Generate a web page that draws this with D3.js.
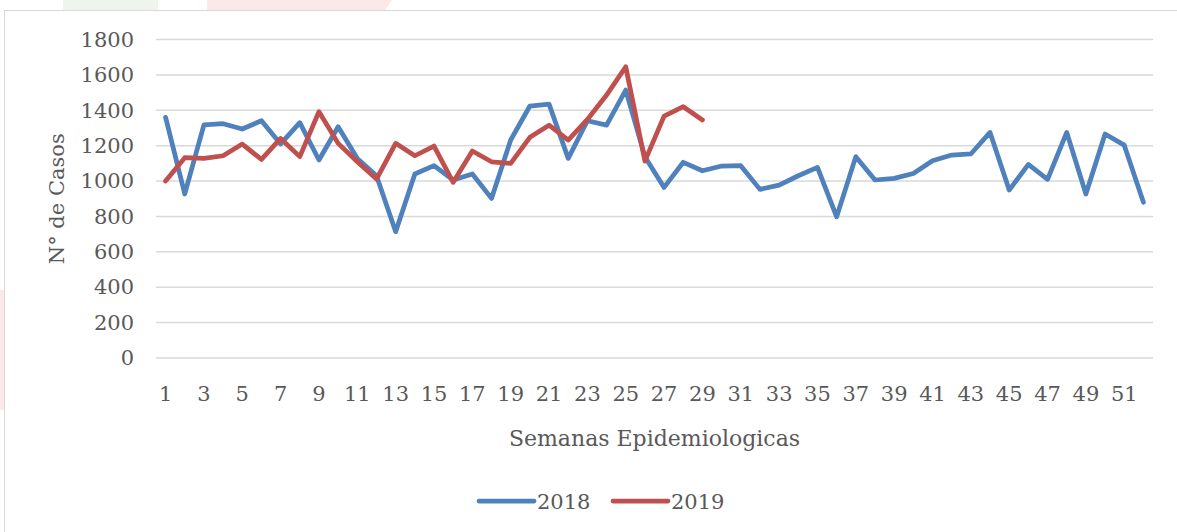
<!DOCTYPE html>
<html>
<head>
<meta charset="utf-8">
<script src="https://cdn.jsdelivr.net/npm/d3@7"></script>
<style>
  html, body { margin: 0; padding: 0; background: #fff; }
  #chart { width: 1177px; height: 532px; }
</style>
</head>
<body>
<div id="chart"></div>
<script>
// Weeks 1..52
const weeks = d3.range(1, 53);

// Cases per week
const cases2018 = [1360, 927, 1318, 1324, 1294, 1341, 1210, 1330, 1119, 1307,
  1128, 1030, 714, 1040, 1087, 1006, 1040, 902, 1232, 1424,
  1435, 1128, 1341, 1316, 1514, 1138, 964, 1106, 1058, 1085,
  1087, 953, 977, 1030, 1077, 798, 1138, 1006, 1015, 1043,
  1115, 1147, 1153, 1275, 949, 1094, 1010, 1275, 927, 1266,
  1203, 880];

const cases2019 = [1000, 1132, 1128, 1143, 1209, 1122, 1241, 1138, 1392, 1213,
  1109, 1011, 1213, 1143, 1198, 993, 1170, 1109, 1100, 1247,
  1316, 1232, 1348, 1486, 1646, 1113, 1367, 1420, 1345];

const yTicks = [0, 200, 400, 600, 800, 1000, 1200, 1400, 1600, 1800];
const xTickLabels = weeks.filter(w => w % 2 === 1);

const seriesList = [
  { name: '2018', values: cases2018, color: '#4f81bd' },
  { name: '2019', values: cases2019, color: '#c0504d' }
];

// Figure
const width = 1177;
const height = 532;
const marginLeft = 156;
const marginRight = 24;
const marginTop = 39.5;
const plotBottom = 358;
const fontFamily = "'DejaVu Serif', 'Liberation Serif', serif";
const textColor = '#595959';

const svg = d3.select('#chart').append('svg')
    .attr('width', width)
    .attr('height', height)
    .attr('viewBox', [0, 0, width, height]);

// Faint page background shapes peeking above the frame
svg.append('rect')
    .attr('x', 63).attr('y', 0).attr('width', 95).attr('height', 12)
    .attr('fill', '#eef6ec');
svg.append('path')
    .attr('d', 'M207,0 L392,0 L384,12 L207,12 Z')
    .attr('fill', '#fbe9e9');
svg.append('rect')
    .attr('x', 0).attr('y', 290).attr('width', 5).attr('height', 120)
    .attr('fill', '#fbe9e9');

// Chart frame
svg.append('rect')
    .attr('x', 4.5).attr('y', 10.5)
    .attr('width', width)
    .attr('height', height)
    .attr('fill', '#fff')
    .attr('stroke', '#d9d9d9')
    .attr('stroke-width', 1);

// X values (categories)
const x = d3.scaleBand()
    .domain(weeks)
    .range([marginLeft, width - marginRight]);

// Y values
const y = d3.scaleLinear()
    .domain([0, 1800])
    .range([plotBottom, marginTop]);

// Gridlines
svg.append('g')
  .selectAll('line')
  .data(yTicks)
  .join('line')
    .attr('x1', marginLeft)
    .attr('x2', width - marginRight)
    .attr('y1', d => y(d))
    .attr('y2', d => y(d))
    .attr('stroke', '#d9d9d9')
    .attr('stroke-width', 1.5);

// Y-axis
const yAxis = svg.append('g')
    .attr('transform', `translate(134,0)`)
    .call(d3.axisLeft(y).tickValues(yTicks).tickFormat(d3.format('d')).tickSize(0).tickPadding(0));
yAxis.select('.domain').remove();
yAxis.selectAll('text')
    .attr('font-family', fontFamily)
    .attr('font-size', '21px')
    .attr('fill', textColor);

// X-axis
const xAxis = svg.append('g')
    .attr('transform', `translate(0,401)`)
    .call(d3.axisBottom(x).tickValues(xTickLabels).tickSize(0).tickPadding(0));
xAxis.select('.domain').remove();
xAxis.selectAll('text')
    .attr('dy', 0)
    .attr('font-family', fontFamily)
    .attr('font-size', '21px')
    .attr('fill', textColor);

// Axis titles
svg.append('text')
    .attr('x', (marginLeft + width - marginRight) / 2)
    .attr('y', 446)
    .attr('text-anchor', 'middle')
    .attr('font-family', fontFamily)
    .attr('font-size', '22px')
    .attr('fill', textColor)
    .text('Semanas Epidemiologicas');

svg.append('text')
    .attr('transform', `translate(64,${(marginTop + plotBottom) / 2}) rotate(-90)`)
    .attr('text-anchor', 'middle')
    .attr('font-family', fontFamily)
    .attr('font-size', '21px')
    .attr('fill', textColor)
    .text('N° de Casos');

// Lines
const line = d3.line()
    .x((d, i) => x(weeks[i]) + x.bandwidth() / 2)
    .y(d => y(d));

seriesList.forEach(s => {
  svg.append('path')
      .datum(s.values)
      .attr('fill', 'none')
      .attr('stroke', s.color)
      .attr('stroke-width', 4.75)
      .attr('stroke-linejoin', 'round')
      .attr('stroke-linecap', 'round')
      .attr('d', line);
});

// Legend
const legend = svg.append('g')
    .attr('transform', 'translate(479,501)');
seriesList.forEach((s, i) => {
  const g = legend.append('g').attr('transform', `translate(${i * 134},0)`);
  g.append('line')
      .attr('x1', 0).attr('x2', 55)
      .attr('stroke', s.color)
      .attr('stroke-width', 4.75)
      .attr('stroke-linecap', 'round');
  g.append('text')
      .attr('x', 58)
      .attr('y', 8)
      .attr('font-family', fontFamily)
      .attr('font-size', '21px')
      .attr('fill', textColor)
      .text(s.name);
});
</script>
</body>
</html>
